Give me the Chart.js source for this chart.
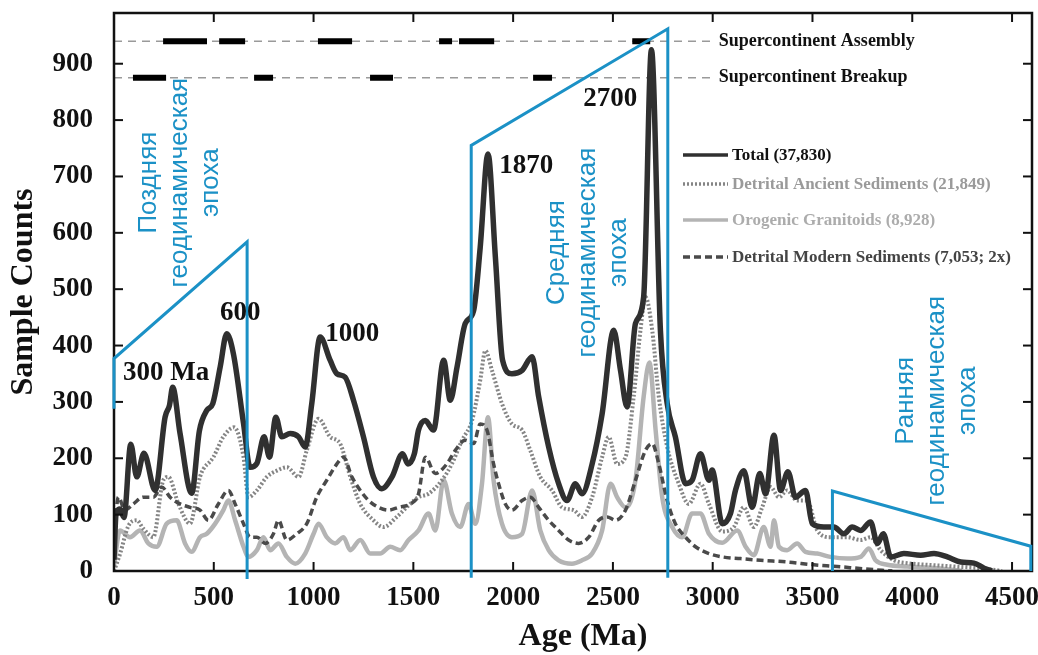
<!DOCTYPE html>
<html>
<head>
<meta charset="utf-8">
<script src="https://cdn.jsdelivr.net/npm/chart.js@4.4.0/dist/chart.umd.min.js"></script>
<style>
  html, body { margin: 0; padding: 0; background: #fff; }
  #wrap { width: 1038px; height: 655px; }
</style>
</head>
<body>
<div id="wrap"><canvas id="zirconChart" width="1038" height="655"></canvas></div>
<script>
// Axis ticks
const xTicks = [0, 500, 1000, 1500, 2000, 2500, 3000, 3500, 4000, 4500];
const yTicks = [0, 100, 200, 300, 400, 500, 600, 700, 800, 900];

// Total (37,830)
const totalAge = [0, 10, 30, 50, 84, 114, 150, 206, 256, 278, 294, 331, 389, 428, 465, 495, 532, 565, 598, 649,
  682, 716, 752, 779, 811, 841, 883, 925, 958, 991, 1033, 1083, 1117, 1158, 1200, 1250, 1300, 1342, 1393, 1446,
  1473, 1505, 1526, 1560, 1601, 1652, 1685, 1719, 1760, 1802, 1835, 1874, 1911, 1947, 1994, 2045, 2095, 2128, 2178, 2228,
  2270, 2312, 2345, 2396, 2446, 2504, 2538, 2571, 2613, 2654, 2693, 2738, 2772, 2813, 2864, 2897, 2939, 2981, 2997, 3048,
  3089, 3114, 3156, 3198, 3236, 3265, 3307, 3340, 3377, 3415, 3465, 3499, 3557, 3607, 3657, 3699, 3741, 3791, 3825, 3855,
  3892, 3958, 4042, 4109, 4176, 4243, 4309, 4360, 4400];
const totalCount = [20, 100, 110, 95, 225, 167, 209, 143, 273, 294, 326, 244, 138, 249, 285, 297, 362, 421, 386, 262,
  184, 191, 238, 202, 273, 238, 244, 238, 220, 297, 415, 374, 350, 344, 303, 238, 167, 146, 167, 208,
  190, 208, 250, 267, 250, 374, 303, 362, 439, 462, 574, 740, 557, 374, 350, 356, 380, 309, 220, 155,
  125, 155, 137, 190, 279, 427, 356, 291, 439, 486, 925, 427, 297, 238, 155, 161, 208, 161, 179, 84,
  102, 143, 178, 113, 173, 137, 241, 143, 176, 131, 143, 84, 78, 78, 66, 78, 72, 87, 49, 66,
  25, 31, 28, 31, 25, 16, 14, 5, 0];

// Detrital Ancient Sediments (21,849)
const ancientAge = [0, 30, 72, 114, 147, 197, 247, 272, 323, 381, 431, 498, 548, 602, 649, 674, 716, 766, 816, 866,
  925, 966, 1025, 1083, 1133, 1184, 1234, 1300, 1350, 1417, 1484, 1526, 1576, 1643, 1693, 1744, 1794, 1835, 1861, 1894,
  1944, 1994, 2045, 2086, 2136, 2195, 2245, 2303, 2345, 2396, 2446, 2479, 2521, 2563, 2604, 2638, 2663, 2697, 2730, 2772,
  2830, 2880, 2939, 2981, 3048, 3106, 3156, 3206, 3248, 3290, 3332, 3373, 3423, 3473, 3524, 3590, 3674, 3741, 3791, 3841,
  3908, 3975, 4075, 4209, 4342, 4450];
const ancientCount = [0, 30, 80, 90, 75, 60, 161, 167, 119, 84, 167, 202, 238, 255, 202, 131, 143, 167, 178, 184,
  167, 214, 270, 238, 226, 167, 119, 90, 78, 96, 119, 131, 137, 161, 190, 232, 267, 338, 391, 356,
  297, 261, 250, 214, 167, 143, 113, 108, 96, 131, 202, 238, 190, 202, 309, 427, 486, 427, 309, 220,
  155, 119, 155, 119, 70, 78, 113, 78, 113, 149, 131, 143, 125, 125, 72, 60, 60, 55, 60, 37,
  19, 14, 11, 8, 5, 0];

// Orogenic Granitoids (8,928)
const graniteAge = [0, 30, 80, 130, 172, 214, 264, 314, 356, 389, 431, 465, 507, 548, 573, 607, 649, 674, 716, 749,
  783, 824, 866, 908, 958, 1000, 1025, 1066, 1108, 1150, 1184, 1234, 1284, 1334, 1384, 1434, 1476, 1526, 1576, 1610,
  1652, 1693, 1735, 1777, 1810, 1844, 1874, 1902, 1944, 1994, 2045, 2095, 2136, 2178, 2228, 2295, 2345, 2396, 2446, 2488,
  2521, 2563, 2613, 2654, 2683, 2714, 2747, 2797, 2847, 2897, 2939, 2981, 3048, 3123, 3165, 3206, 3256, 3290, 3307, 3332,
  3373, 3423, 3465, 3524, 3590, 3674, 3741, 3783, 3816, 3875, 3975, 4125, 4250];
const graniteCount = [10, 72, 60, 72, 49, 43, 84, 90, 49, 34, 60, 66, 84, 108, 125, 90, 43, 25, 37, 60,
  37, 49, 25, 13, 31, 66, 84, 60, 49, 60, 37, 55, 31, 31, 43, 37, 55, 72, 102, 72,
  161, 102, 78, 119, 84, 155, 273, 161, 84, 60, 66, 143, 72, 37, 19, 13, 19, 31, 72, 155,
  131, 113, 161, 309, 370, 250, 131, 78, 60, 102, 102, 66, 50, 72, 43, 28, 78, 43, 90, 43,
  37, 49, 34, 31, 25, 22, 25, 40, 19, 11, 8, 5, 0];

// Detrital Modern Sediments (7,053; 2x)
const modernAge = [0, 22, 55, 97, 147, 197, 239, 281, 331, 381, 431, 473, 523, 573, 607, 649, 682, 716, 758, 799,
  824, 866, 916, 966, 1016, 1066, 1117, 1150, 1192, 1234, 1276, 1325, 1375, 1426, 1484, 1526, 1560, 1610, 1668, 1710,
  1760, 1802, 1835, 1869, 1902, 1927, 1961, 1994, 2045, 2086, 2128, 2178, 2228, 2278, 2328, 2379, 2429, 2471, 2513, 2563,
  2613, 2663, 2697, 2730, 2772, 2813, 2864, 2914, 2981, 3048, 3140, 3240, 3373, 3507, 3624, 3750, 3900];
const modernCount = [60, 131, 108, 119, 131, 131, 149, 131, 119, 113, 108, 90, 119, 143, 119, 84, 60, 60, 49, 66,
  90, 55, 66, 84, 131, 161, 190, 202, 167, 143, 125, 113, 108, 113, 119, 137, 202, 173, 190, 214,
  232, 226, 261, 250, 190, 155, 119, 108, 125, 131, 113, 90, 72, 55, 49, 60, 90, 96, 90, 108,
  161, 214, 226, 190, 125, 84, 60, 43, 31, 25, 22, 19, 16, 11, 8, 4, 0];

// Supercontinent assembly / breakup intervals (Ma)
const assemblyStart = [246, 527, 1022, 1629, 1729, 2597];
const assemblyEnd = [466, 657, 1193, 1694, 1905, 2687];
const breakupStart = [95, 702, 1283, 2100];
const breakupEnd = [261, 797, 1398, 2195];
const assemblyLevel = 940;
const breakupLevel = 875;
const refLineEnd = 3000;

// Blue geodynamic epoch outlines
const lateEpochX = [0, 0, 667, 667];
const lateEpochY = [288, 377, 584, -14];
const middleEpochX = [1790, 1790, 2775, 2775];
const middleEpochY = [-12, 755, 962, -12];
const earlyEpochX = [3600, 3600, 4594, 4594];
const earlyEpochY = [0, 142, 44, 0];

// Peak labels: text, age, count
const peakLabels = [
  ['300 Ma', 261, 351],
  ['600', 632, 457],
  ['1000', 1194, 421],
  ['1870', 2066, 719],
  ['2700', 2487, 838]
];
// Epoch captions: lines, centre age, centre count
const epochLabels = [
  [['Поздняя', 'геодинамическая', 'эпоха'], 331, 689],
  [['Средняя', 'геодинамическая', 'эпоха'], 2372, 565],
  [['Ранняя', 'геодинамическая', 'эпоха'], 4122, 302]
];

const BLUE = '#1b91c6';
const SERIF = '"Liberation Serif", "Times New Roman", serif';

function toPoints(xs, ys) {
  return xs.map((x, i) => ({ x: x, y: ys[i] }));
}

// Each interval becomes its own segment, split by a null point
function barPoints(starts, ends, level) {
  const pts = [];
  starts.forEach((s, i) => {
    pts.push({ x: s, y: level }, { x: ends[i], y: level }, { x: ends[i], y: null });
  });
  return pts;
}

function epochSet(xs, ys) {
  return {
    data: toPoints(xs, ys),
    borderColor: BLUE,
    borderWidth: 3,
    tension: 0,
    clip: false,
    borderJoinStyle: 'miter'
  };
}

function seriesSet(label, xs, ys, color, width, dash) {
  return {
    label: label,
    data: toPoints(xs, ys),
    borderColor: color,
    borderWidth: width,
    borderDash: dash,
    cubicInterpolationMode: 'monotone',
    borderCapStyle: 'butt'
  };
}

const datasets = [
  epochSet(lateEpochX, lateEpochY),
  epochSet(middleEpochX, middleEpochY),
  epochSet(earlyEpochX, earlyEpochY),
  { data: barPoints(assemblyStart, assemblyEnd, assemblyLevel), borderColor: '#000', borderWidth: 6, spanGaps: false },
  { data: barPoints(breakupStart, breakupEnd, breakupLevel), borderColor: '#000', borderWidth: 6, spanGaps: false },
  seriesSet('Total (37,830)', totalAge, totalCount, '#303030', 5.5, []),
  seriesSet('Detrital Modern Sediments (7,053; 2x)', modernAge, modernCount, '#4a4a4a', 3.5, [7, 4]),
  seriesSet('Detrital Ancient Sediments (21,849)', ancientAge, ancientCount, '#858585', 4, [2, 2]),
  seriesSet('Orogenic Granitoids (8,928)', graniteAge, graniteCount, '#b4b4b4', 4.5, []),
  { data: toPoints([0, refLineEnd], [assemblyLevel, assemblyLevel]), borderColor: '#9a9a9a', borderWidth: 1.5, borderDash: [8, 6] },
  { data: toPoints([0, refLineEnd], [breakupLevel, breakupLevel]), borderColor: '#9a9a9a', borderWidth: 1.5, borderDash: [8, 6] }
];

// legend rows: dataset index, text colour
const legendRows = [
  [5, '#111111'],
  [7, '#9a9a9a'],
  [8, '#acacac'],
  [6, '#444444']
];

function line(ctx, x1, y1, x2, y2) {
  ctx.beginPath();
  ctx.moveTo(x1, y1);
  ctx.lineTo(x2, y2);
  ctx.stroke();
}

// keep the plot box fixed: no extra room for edge labels
function noEdgePadding(s) {
  s.paddingTop = 0;
  s.paddingBottom = 0;
  s.paddingLeft = 0;
  s.paddingRight = 0;
}

const decorations = {
  id: 'decorations',
  // frame goes under the blue outlines but over the data curves
  beforeDatasetDraw(chart, args) {
    if (args.index !== 2) return;
    const { ctx, chartArea: a, scales: { x, y } } = chart;
    ctx.save();
    ctx.strokeStyle = '#111';
    ctx.lineWidth = 2.5;
    ctx.strokeRect(a.left, a.top, a.right - a.left, a.bottom - a.top);
    ctx.lineWidth = 2;
    x.ticks.forEach(t => {
      const px = x.getPixelForValue(t.value);
      line(ctx, px, a.bottom, px, a.bottom - 9);
      line(ctx, px, a.top, px, a.top + 9);
    });
    y.ticks.forEach(t => {
      const py = y.getPixelForValue(t.value);
      line(ctx, a.left, py, a.left + 9, py);
      line(ctx, a.right, py, a.right - 9, py);
    });
    ctx.restore();
  },
  afterDraw(chart) {
    const { ctx, chartArea: a, scales: { x, y } } = chart;
    ctx.save();

    // supercontinent captions
    ctx.fillStyle = '#111';
    ctx.font = 'bold 18px ' + SERIF;
    ctx.textAlign = 'left';
    ctx.textBaseline = 'middle';
    ctx.fillText('Supercontinent Assembly', x.getPixelForValue(refLineEnd + 30), y.getPixelForValue(assemblyLevel));
    ctx.fillText('Supercontinent Breakup', x.getPixelForValue(refLineEnd + 30), y.getPixelForValue(breakupLevel));

    // peak labels
    ctx.font = 'bold 27px ' + SERIF;
    ctx.textAlign = 'center';
    peakLabels.forEach(([txt, age, cnt]) => {
      ctx.fillText(txt, x.getPixelForValue(age), y.getPixelForValue(cnt));
    });

    // epoch captions, rotated
    ctx.fillStyle = BLUE;
    ctx.font = '26px "Liberation Sans", Arial, sans-serif';
    epochLabels.forEach(([lines, age, cnt]) => {
      const cx = x.getPixelForValue(age);
      const cy = y.getPixelForValue(cnt);
      lines.forEach((txt, i) => {
        ctx.save();
        ctx.translate(cx + (i - 1) * 31, cy);
        ctx.rotate(-Math.PI / 2);
        ctx.fillText(txt, 0, 0);
        ctx.restore();
      });
    });

    // legend
    const lx = a.left + 569;
    const rowY = [a.top + 142, a.top + 171, a.top + 207, a.top + 244];
    ctx.font = 'bold 17px ' + SERIF;
    ctx.textAlign = 'left';
    legendRows.forEach(([idx, color], i) => {
      const ds = chart.data.datasets[idx];
      ctx.strokeStyle = ds.borderColor;
      ctx.lineWidth = Math.min(ds.borderWidth, 3.5);
      ctx.setLineDash(ds.borderDash || []);
      line(ctx, lx, rowY[i], lx + 45, rowY[i]);
      ctx.setLineDash([]);
      ctx.fillStyle = color;
      ctx.fillText(ds.label, lx + 49, rowY[i] + 1);
    });

    // x axis title, drawn here so it can sit slightly right of centre as in the source
    ctx.fillStyle = '#111';
    ctx.font = 'bold 32px ' + SERIF;
    ctx.textAlign = 'center';
    ctx.fillText('Age (Ma)', (a.left + a.right) / 2 + 10, 637);
    ctx.restore();
  }
};

new Chart(document.getElementById('zirconChart'), {
  type: 'line',
  data: { datasets: datasets },
  options: {
    responsive: false,
    animation: false,
    events: [],
    elements: { point: { radius: 0 } },
    layout: { padding: { top: 13, right: 6, left: 0, bottom: 0 } },
    plugins: { legend: { display: false }, tooltip: { enabled: false } },
    scales: {
      x: {
        type: 'linear',
        min: 0,
        max: 4600,
        afterBuildTicks: s => { s.ticks = xTicks.map(v => ({ value: v })); },
        afterFit: s => { s.height = 84; noEdgePadding(s); },
        grid: { display: false, drawTicks: false },
        border: { display: false },
        ticks: { padding: 11, color: '#111', maxRotation: 0, callback: v => String(v),
          font: { family: SERIF, size: 27, weight: 'bold' } },
        title: { display: false }
      },
      y: {
        type: 'linear',
        min: 0,
        max: 990,
        afterBuildTicks: s => { s.ticks = yTicks.map(v => ({ value: v })); },
        afterFit: s => { s.width = 114; noEdgePadding(s); },
        grid: { display: false, drawTicks: false },
        border: { display: false },
        ticks: { padding: 21, color: '#111', callback: v => String(v),
          font: { family: SERIF, size: 27, weight: 'bold' } },
        title: { display: true, text: 'Sample Counts', color: '#111', padding: { top: 5 }, font: { family: SERIF, size: 32, weight: 'bold' } }
      }
    }
  },
  plugins: [decorations]
});
</script>
</body>
</html>
